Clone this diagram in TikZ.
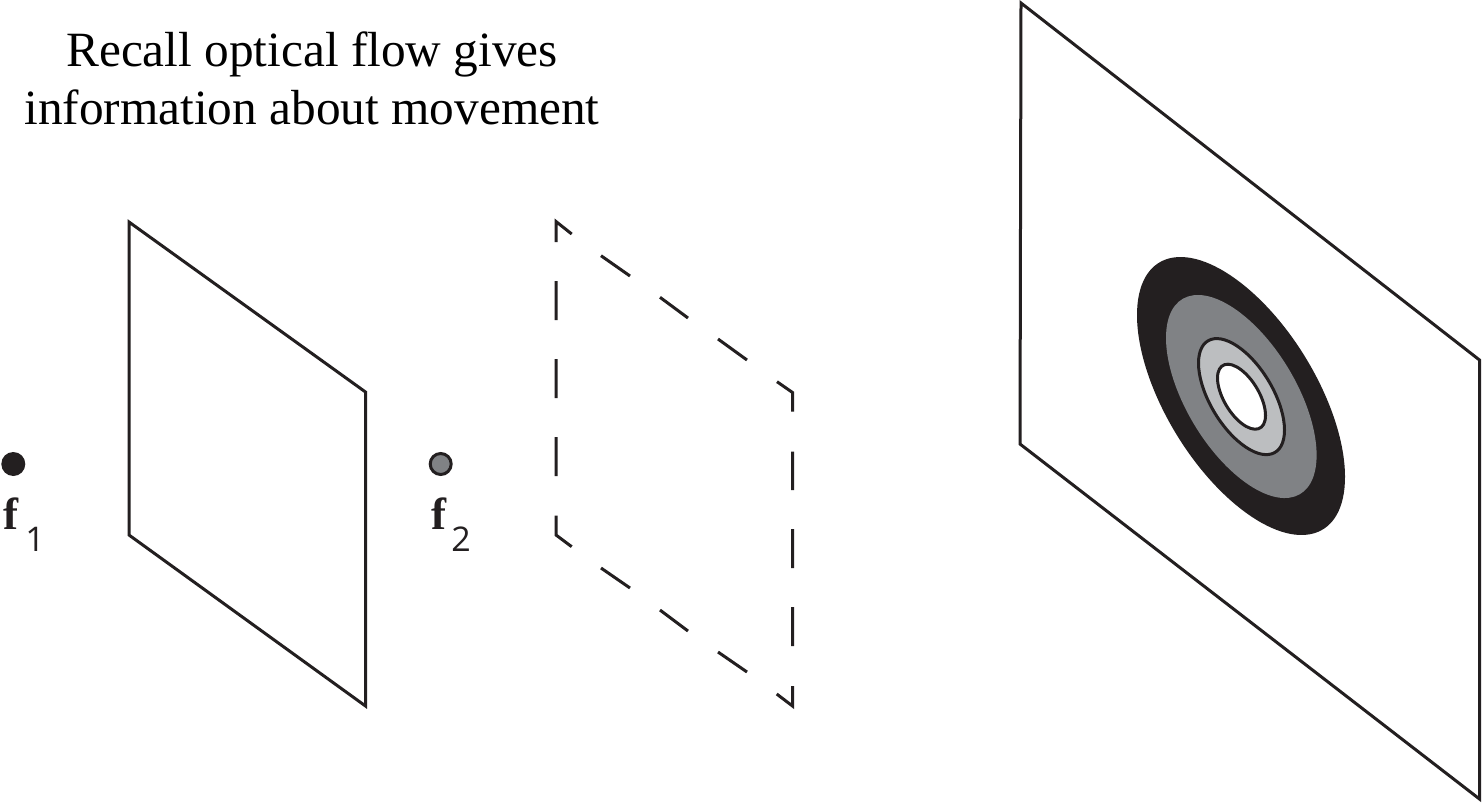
\documentclass[tikz,border=0pt]{standalone}
\usepackage{fontspec}
\setmainfont{Liberation Serif}
\newfontfamily\labelsans{Open Sans}
\definecolor{inkblack}{HTML}{231F20}
\definecolor{midgray}{HTML}{808285}
\definecolor{lightgray2}{HTML}{BCBEC0}
\newcommand{\skewring}[5]{% cx cy a b operation
  \pgfpathellipse{\pgfpointxy{#1}{#2}}{\pgfpointxy{#3}{0.778*#3}}{\pgfpointxy{0}{#4}}\pgfusepath{#5}}
\tikzset{
  plate/.style={draw=inkblack,line width=1.5pt,miter limit=10,line join=miter},
  dashpiece/.style={draw=inkblack,line width=1.5pt,line join=miter,miter limit=10},
  titletext/.style={anchor=base,inner sep=0pt,font=\fontsize{24.65pt}{29pt}\selectfont,text=black},
  flabel/.style={anchor=base west,inner sep=0pt,font=\fontsize{22.5pt}{27pt}\selectfont\bfseries,text=inkblack},
  sublabel/.style={anchor=base west,inner sep=0pt,font=\fontsize{17pt}{20pt}\labelsans,text=inkblack},
}
\begin{document}
\begin{tikzpicture}[x=0.5pt,y=-0.5pt]
\useasboundingbox (0,0) rectangle (1483,804);
\fill[white] (0,0) rectangle (1483,804);
% title
\node[titletext] (title1) at (312,66) {Recall optical flow gives};
\node[titletext] (title2) at (312,124) {information about movement};
% left plate
\draw[plate] (129,222) -- (365.5,392) -- (365.5,706) -- (129,535) -- cycle;
% dashed plate
\draw[dashpiece]
 (556,242) -- (556,221.5) -- (571.7,234)
 (601,255.7) -- (630,276)
 (660,297.3) -- (688,318)
 (718,339) -- (747,360)
 (777,381.7) -- (792.5,392.5) -- (792.5,411.7)
 (792.5,451.7) -- (792.5,490)
 (792.5,529) -- (792.5,568)
 (792.5,607) -- (792.5,646)
 (792.5,686) -- (792.5,706) -- (776.7,694)
 (747,672) -- (718,652)
 (688,631) -- (660,610)
 (630,588) -- (601,568)
 (571.7,546.7) -- (556,535) -- (556,515.7)
 (556,476) -- (556,437)
 (556,398) -- (556,359)
 (556,320) -- (556,281);
% focal points
\fill[inkblack] (13.3,464) circle[radius=12];
\draw[fill=midgray,draw=inkblack,line width=1.5pt] (440.7,464) circle[radius=10.5];
\node[flabel] (f1) at (3,529) {f};
\node[sublabel] (s1) at (25,551.7) {1};
\node[flabel] (f2) at (431,529) {f};
\node[sublabel] (s2) at (451,551.7) {2};
% right plate
\draw[plate] (1021,3) -- (1479.5,360) -- (1479.5,799) -- (1020,444) -- cycle;
% target rings
\pgfsetlinewidth{1.5pt}
\pgfsetfillcolor{inkblack}\skewring{1241}{396}{104}{113}{fill}
\pgfsetfillcolor{midgray}\skewring{1241.3}{396.5}{75.3}{82.9}{fill}
\pgfsetstrokecolor{inkblack}
\pgfsetfillcolor{lightgray2}\skewring{1241.5}{396.6}{43}{47.4}{fill,stroke}
\pgfsetfillcolor{white}\skewring{1241.5}{396.7}{24}{26.6}{fill,stroke}
\end{tikzpicture}
\end{document}
